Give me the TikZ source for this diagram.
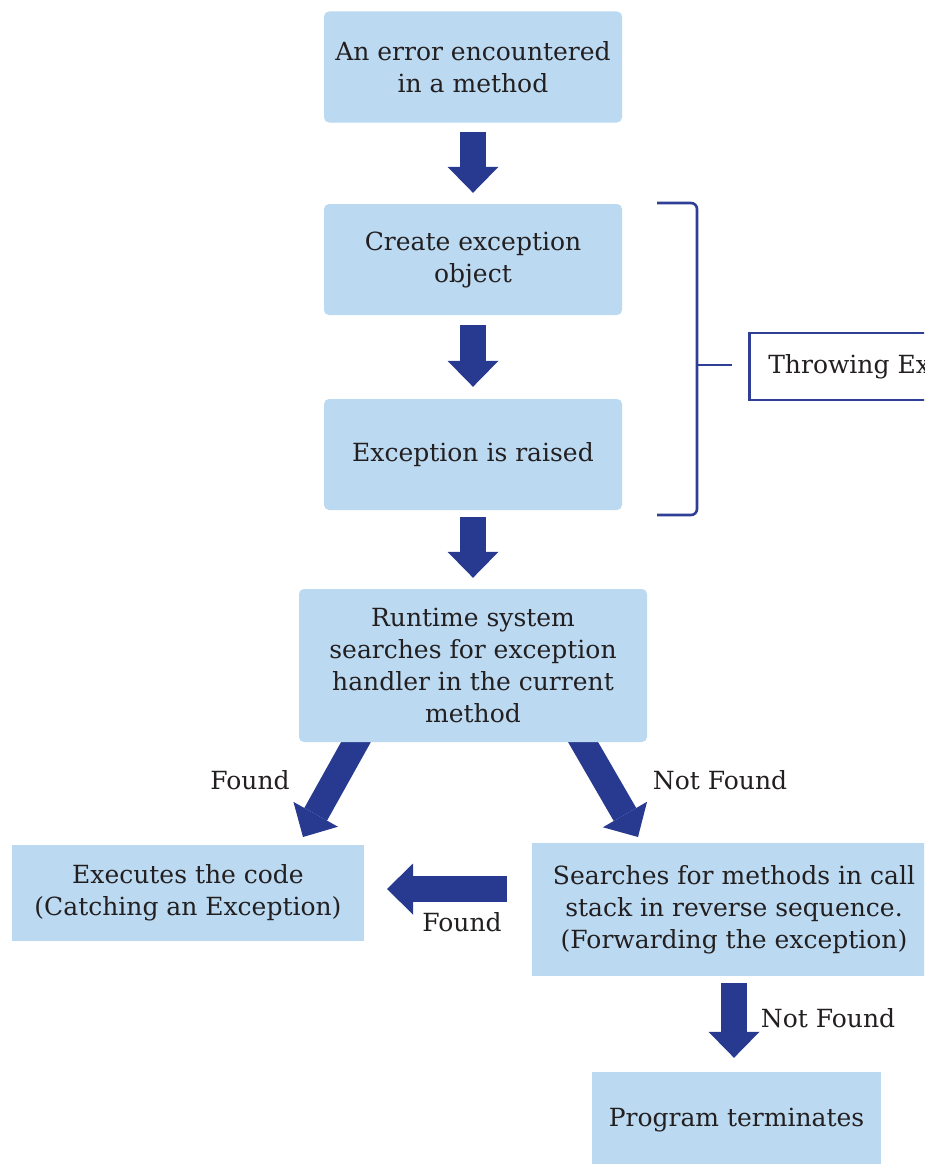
\documentclass[tikz,border=0pt]{standalone}
\usepackage{fontspec}
\setmainfont{DejaVu Serif}
\usetikzlibrary{arrows.meta,backgrounds}
\definecolor{boxfill}{HTML}{BBDAF2}
\definecolor{arrowblue}{HTML}{283A90}
\definecolor{brackblue}{HTML}{2E3F95}
\definecolor{txt}{HTML}{231F20}
\tikzset{
  box/.style={fill=boxfill, draw=none, align=center, text=txt, inner sep=0pt,
    font=\fontsize{25pt}{32pt}\selectfont},
  rbox/.style={box, rounded corners=5pt},
  lbl/.style={text=txt, inner sep=0pt, font=\fontsize{25pt}{32pt}\selectfont},
  bigarrow/.style={draw=arrowblue, line width=26pt,
    -{Triangle[width=51pt,length=26pt,line width=0pt,fill=arrowblue]}},
  brack/.style={draw=brackblue, line width=2.6pt},
}
\begin{document}
\begin{tikzpicture}[x=1pt,y=-1pt]
\useasboundingbox (0,0) rectangle (924,1164);
\clip (0,0) rectangle (924,1164);
% boxes
\node[rbox, minimum width=298pt, minimum height=111pt] (b1) at (473,67)
  {An error encountered\\ in a method};
\node[rbox, minimum width=298pt, minimum height=111pt] (b2) at (473,259.5)
  {Create exception\\ object};
\node[rbox, minimum width=298pt, minimum height=111pt] (b3) at (473,454.5)
  {Exception is raised};
\node[rbox, minimum width=348pt, minimum height=153pt] (b4) at (473,665.5)
  {Runtime system\\ searches for exception\\ handler in the current\\ method};
\node[box, minimum width=352pt, minimum height=96pt] (b5) at (188,893)
  {Executes the code\\ (Catching an Exception)};
\node[box, minimum width=404pt, minimum height=133pt] (b6) at (734,909.5)
  {Searches for methods in call\\ stack in reverse sequence.\\ (Forwarding the exception)};
\node[box, minimum width=289pt, minimum height=96pt] (b7) at (736.5,1120)
  {Program terminates};
% throwing exception label
\node[lbl, draw=brackblue, line width=2.6pt, anchor=west, minimum height=67pt,
  inner xsep=19pt] (te) at (748,366.5) {Throwing Exception};
% bracket
\coordinate (bt) at (657,203);
\coordinate (bb) at (657,515);
\coordinate (bm) at (697,365);
\coordinate (tk) at (732,365);
\draw[brack, rounded corners=6pt] (bt) -| (bm) |- (bb);
\draw[brack] (bm) -- (tk);
% arrows
\coordinate (dls) at (363.3,728.9);
\coordinate (dle) at (303,837);
\coordinate (drs) at (575.5,729);
\coordinate (dre) at (638,837);
\coordinate (hfs) at (507,889);
\coordinate (hfe) at (387,889);
\begin{pgfonlayer}{background}
\fill[white] (0,0) rectangle (924,1164);
\draw[bigarrow, shorten <=9pt, shorten >=11pt] (b1.south) -- (b2.north);
\draw[bigarrow, shorten <=10pt, shorten >=12pt] (b2.south) -- (b3.north);
\draw[bigarrow, shorten <=7pt, shorten >=11pt] (b3.south) -- (b4.north);
\draw[bigarrow] (dls) -- (dle);
\draw[bigarrow] (drs) -- (dre);
\draw[bigarrow] (hfs) -- (hfe);
\draw[bigarrow, shorten <=7pt, shorten >=14pt] (b6.south) -- (b6.south |- b7.north);
\end{pgfonlayer}
% labels
\node[lbl] (l1) at (250,780) {Found};
\node[lbl] (l2) at (720,780) {Not Found};
\node[lbl] (l3) at (462,922) {Found};
\node[lbl] (l4) at (828,1018) {Not Found};
\end{tikzpicture}
\end{document}
